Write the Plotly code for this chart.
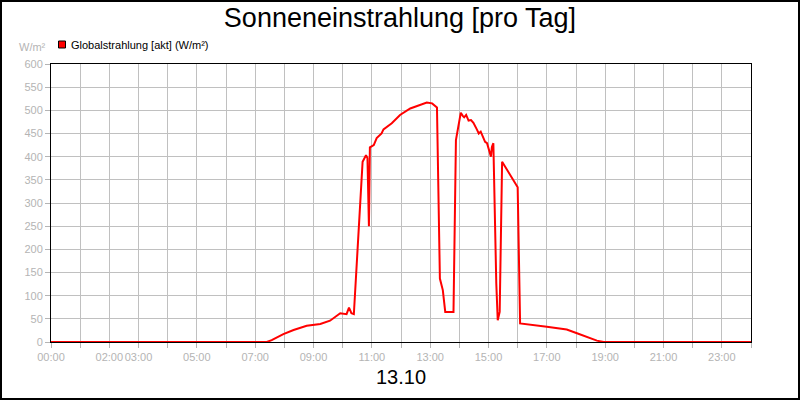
import plotly.graph_objects as go

zeiten = ["00:00", "07:24", "07:34", "07:58", "08:19", "08:46", "09:14", "09:34",
          "09:55", "10:08", "10:13", "10:18", "10:23", "10:41", "10:48", "10:51",
          "10:54", "10:56", "11:04", "11:10", "11:20", "11:24", "11:41", "11:58",
          "12:19", "12:36", "12:53", "13:04", "13:14", "13:20", "13:26", "13:31",
          "13:48", "13:53", "14:03", "14:07", "14:10", "14:14", "14:19", "14:24",
          "14:29", "14:36", "14:40", "14:44", "14:49", "14:53", "14:57", "15:02",
          "15:05", "15:07", "15:10", "15:16", "15:19", "15:23", "15:28", "16:00",
          "16:05", "17:00", "17:28", "17:41", "18:02", "18:23", "18:43", "18:57",
          "24:00"]
strahlung = [0, 0, 4, 17, 26, 35, 39, 46,
             62, 60, 74, 62, 60, 389, 403, 397,
             250, 420, 425, 440, 450, 459, 472, 490,
             504, 511, 517, 515, 506, 137, 112, 65,
             65, 436, 495, 488, 485, 490, 478, 479,
             473, 459, 450, 454, 440, 432, 429, 413,
             400, 421, 429, 127, 47, 65, 389, 334,
             40, 33, 30, 27, 19, 10, 3, 0,
             0]

stunden = list(range(25))
beschriftet = {0: "00:00", 2: "02:00", 3: "03:00", 5: "05:00", 7: "07:00", 9: "09:00",
               11: "11:00", 13: "13:00", 15: "15:00", 17: "17:00", 19: "19:00",
               21: "21:00", 23: "23:00"}
tick_text = [beschriftet.get(h, "") for h in stunden]

x_werte = [int(z[:2]) + int(z[3:]) / 60 for z in zeiten]

grau = "#b4b4b4"
fig = go.Figure()
fig.add_trace(go.Scatter(x=x_werte, y=strahlung, mode="lines",
                         line=dict(color="#ff0000", width=2), showlegend=False))

# Rahmen um das ganze Bild (paper-Koordinaten ueber die Plotflaeche hinaus)
pw, ph = 700, 278
l, r, t, b = 51, 49, 64, 58
fig.add_shape(type="rect", xref="paper", yref="paper",
              x0=(-l + 1) / pw, x1=(pw + r - 1) / pw,
              y0=(-b + 1) / ph, y1=(ph + t - 1) / ph,
              line=dict(color="black", width=2), layer="above")
# Legendenfeld
fig.add_shape(type="rect", xref="paper", yref="paper",
              x0=(58.5 - l) / pw, x1=(65.5 - l) / pw,
              y0=(ph + t - 48) / ph, y1=(ph + t - 41) / ph,
              line=dict(color="black", width=1), fillcolor="#ff0000")

fig.update_layout(
    width=800, height=400,
    margin=dict(l=l, r=r, t=t, b=b, autoexpand=False),
    paper_bgcolor="white", plot_bgcolor="white",
    font=dict(family="Liberation Sans, Arial, sans-serif"),
    title=dict(text="Sonneneinstrahlung [pro Tag]", x=0.5, xanchor="center",
               y=0.955, yanchor="middle", font=dict(size=27, color="black")),
    annotations=[
        dict(text="Globalstrahlung [akt] (W/m²)", xref="paper", yref="paper",
             x=(69 - l) / pw, y=(ph + t - 44.5) / ph, xanchor="left", yanchor="middle",
             showarrow=False, font=dict(size=11, color="black")),
        dict(text="W/m²", xref="paper", yref="paper",
             x=(48 - l) / pw, y=(ph + t - 47) / ph, xanchor="right", yanchor="middle",
             showarrow=False, font=dict(size=11, color=grau)),
        dict(text="13.10", xref="paper", yref="paper",
             x=0.5, y=-(377 - (ph + t)) / ph, xanchor="center", yanchor="middle",
             showarrow=False, font=dict(size=20, color="black")),
    ],
)
fig.update_xaxes(range=[0, 24], tickvals=stunden, ticktext=tick_text,
                 tickangle=0, automargin=False,
                 showgrid=True, gridcolor="#c0c0c0", gridwidth=1,
                 ticks="outside", ticklen=5, tickcolor=grau,
                 tickfont=dict(size=11, color=grau),
                 showline=True, linecolor="black", linewidth=1, mirror=True,
                 zeroline=False)
fig.update_yaxes(range=[0, 600], dtick=50, automargin=False,
                 showgrid=True, gridcolor="#c0c0c0", gridwidth=1,
                 ticks="outside", ticklen=5, tickcolor=grau,
                 tickfont=dict(size=11, color=grau),
                 showline=True, linecolor="black", linewidth=1, mirror=True,
                 zeroline=False)

# Seitenrand des Browsers entfernen, damit das Bild genau 800x400 fuellt
fig.write_html("out.html", config={"displayModeBar": False},
               post_script="document.body.style.margin='0';")
